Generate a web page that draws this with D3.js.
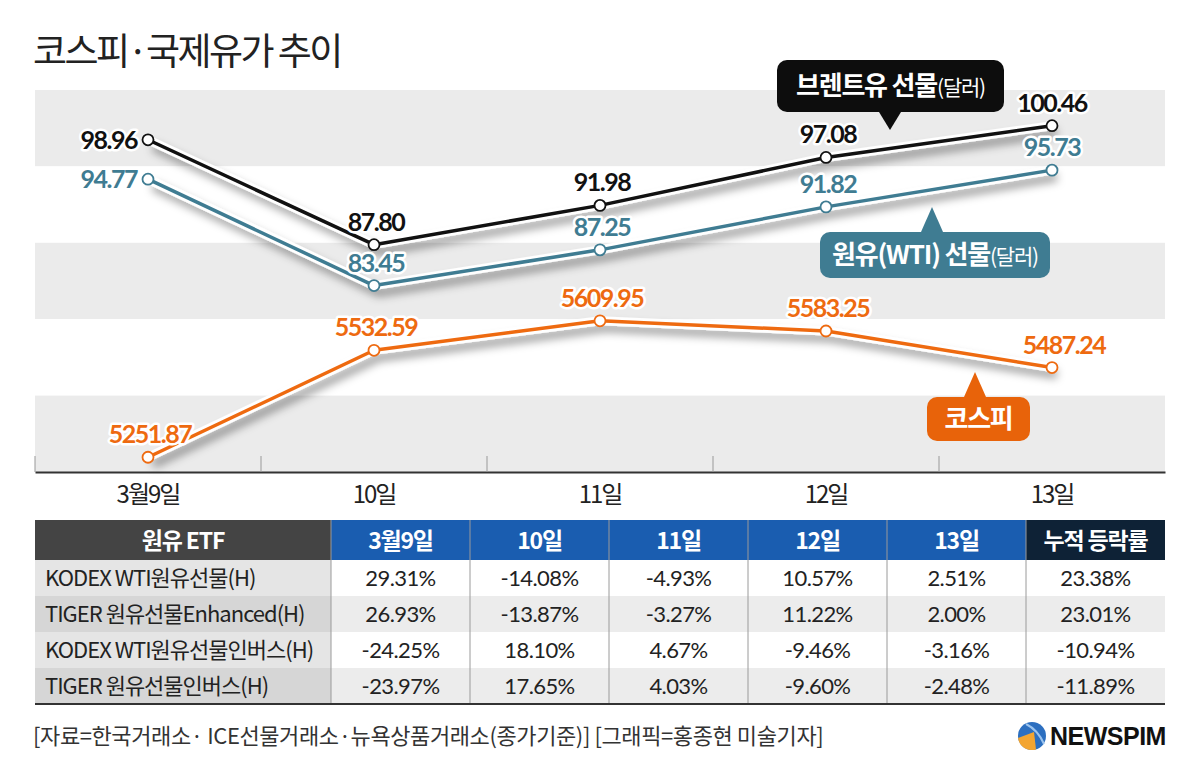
<!DOCTYPE html>
<html>
<head>
<meta charset="utf-8">
<script src="https://cdn.jsdelivr.net/npm/d3@7/dist/d3.min.js"></script>
<style>
  body { margin: 0; background: #fff; }
  svg { display: block; font-family: "Noto Sans CJK KR", "Noto Sans", sans-serif; }
  .num { font-family: Lato, "Noto Sans", sans-serif; font-weight: 700; letter-spacing: -1.5px; }
</style>
</head>
<body>
<svg id="chart" width="1200" height="780"></svg>
<script>
// data
var days = ["3월9일", "10일", "11일", "12일", "13일"];
var brent = [98.96, 87.80, 91.98, 97.08, 100.46];
var wti = [94.77, 83.45, 87.25, 91.82, 95.73];
var kospi = [5251.87, 5532.59, 5609.95, 5583.25, 5487.24];

var etfHeader = ["원유 ETF", "3월9일", "10일", "11일", "12일", "13일", "누적 등락률"];
var etfNames = ["KODEX WTI원유선물(H)", "TIGER 원유선물Enhanced(H)", "KODEX WTI원유선물인버스(H)", "TIGER 원유선물인버스(H)"];
var etfRow1 = ["29.31%", "-14.08%", "-4.93%", "10.57%", "2.51%", "23.38%"];
var etfRow2 = ["26.93%", "-13.87%", "-3.27%", "11.22%", "2.00%", "23.01%"];
var etfRow3 = ["-24.25%", "18.10%", "4.67%", "-9.46%", "-3.16%", "-10.94%"];
var etfRow4 = ["-23.97%", "17.65%", "4.03%", "-9.60%", "-2.48%", "-11.89%"];
var etfRows = [etfRow1, etfRow2, etfRow3, etfRow4];

var BLACK = "#111", TEAL = "#3f7c92", ORANGE = "#ee6a10";

var svg = d3.select("#chart");

// shadow filter
var defs = svg.append("defs");
var f = defs.append("filter").attr("id", "shadow")
    .attr("x", "-10%").attr("y", "-30%").attr("width", "130%").attr("height", "180%");
f.append("feDropShadow").attr("dx", 5).attr("dy", 7).attr("stdDeviation", 4)
    .attr("flood-color", "#000").attr("flood-opacity", 0.35);

// title
svg.append("text").attr("x", 33).attr("y", 65)
    .attr("font-size", 37).attr("font-weight", 400).attr("fill", "#222")
    .attr("letter-spacing", "-2.5")
    .text("코스피·국제유가 추이");

// scales
var plotL = 35, plotR = 1165, plotT = 90, plotB = 472;
var x = d3.scaleBand().domain(days).range([plotL, plotR]);
var cx = function (d, i) { return x(days[i]) + x.bandwidth() / 2; };
var yOil = d3.scaleLinear().domain([80, 100]).range([318, 130]);
var yK = d3.scaleLinear().domain([5200, 5700]).range([477, 286.5]);

// stripes
var stripeH = (plotB - plotT) / 5;
svg.append("g").selectAll("rect").data(d3.range(5)).join("rect")
    .attr("x", plotL).attr("width", plotR - plotL)
    .attr("y", function (d) { return plotT + d * stripeH; })
    .attr("height", stripeH)
    .attr("fill", function (d) { return d % 2 == 0 ? "#ebebeb" : "#fff"; });

// x axis
var xAxis = svg.append("g").attr("transform", "translate(0," + plotB + ")")
    .call(d3.axisBottom(x).tickSize(0).tickPadding(14));
xAxis.select(".domain").attr("stroke", "#333").attr("stroke-width", 2);
xAxis.selectAll("text").attr("font-size", 24).attr("fill", "#222")
    .attr("font-family", "'Noto Sans CJK KR', sans-serif").attr("letter-spacing", "-2");
svg.append("g").selectAll("line").data(days.slice(1)).join("line")
    .attr("x1", function (d) { return x(d); }).attr("x2", function (d) { return x(d); })
    .attr("y1", plotB - 16).attr("y2", plotB)
    .attr("stroke", "#999").attr("stroke-width", 1);
svg.append("line").attr("x1", plotL).attr("x2", plotL).attr("y1", plotB - 16).attr("y2", plotB)
    .attr("stroke", "#999");

// series
function drawSeries(vals, yScale, color) {
    var pts = vals.map(function (v, i) { return [cx(v, i), yScale(v)]; });
    var line = d3.line();
    var g = svg.append("g");
    g.append("path").attr("d", line(pts)).attr("fill", "none")
        .attr("stroke", "#fff").attr("stroke-width", 9).attr("stroke-linejoin", "round")
        .attr("filter", "url(#shadow)");
    g.append("path").attr("d", line(pts)).attr("fill", "none")
        .attr("stroke", color).attr("stroke-width", 3.5).attr("stroke-linejoin", "round");
    g.selectAll("circle").data(pts).join("circle")
        .attr("cx", function (d) { return d[0]; }).attr("cy", function (d) { return d[1]; })
        .attr("r", 5.5).attr("fill", "#fff").attr("stroke", color).attr("stroke-width", 1.8);
    return pts;
}
var pB = drawSeries(brent, yOil, BLACK);
var pW = drawSeries(wti, yOil, TEAL);
var pK = drawSeries(kospi, yK, ORANGE);

// value labels
function labels(vals, pts, color, fmt, firstLeft, dxLast) {
    svg.append("g").selectAll("text").data(vals).join("text")
        .attr("class", "num")
        .attr("x", function (d, i) {
            if (i == 0 && firstLeft) return pts[i][0] - 11;
            if (i == vals.length - 1) return pts[i][0] + (dxLast || 0);
            return pts[i][0] + 2;
        })
        .attr("y", function (d, i) {
            if (i == 0 && firstLeft) return pts[i][1] + 9;
            return pts[i][1] - 14;
        })
        .attr("text-anchor", function (d, i) { return (i == 0 && firstLeft) ? "end" : "middle"; })
        .attr("font-size", 25).attr("fill", color)
        .attr("stroke", "#fff").attr("stroke-width", 5).attr("stroke-linejoin", "round")
        .attr("paint-order", "stroke")
        .text(function (d) { return d3.format(fmt)(d); });
}
labels(brent, pB, BLACK, ".2f", true, 0);
labels(wti, pW, TEAL, ".2f", true, 0);
labels(kospi, pK, ORANGE, ".2f", false, 12);

// callouts
function callout(bx, by, bw, bh, tipX, tipY, color, main, sub) {
    var g = svg.append("g");
    var up = tipY < by;
    var baseY = up ? by : by + bh;
    g.append("path")
        .attr("d", "M" + (tipX - 11) + "," + baseY + "L" + tipX + "," + tipY + "L" + (tipX + 11) + "," + baseY + "Z")
        .attr("fill", color);
    g.append("rect").attr("x", bx).attr("y", by).attr("width", bw).attr("height", bh)
        .attr("rx", 10).attr("fill", color);
    var t = g.append("text").attr("x", bx + bw / 2).attr("y", by + bh / 2 + 9)
        .attr("text-anchor", "middle").attr("fill", "#fff").attr("letter-spacing", "-1.2");
    t.append("tspan").attr("font-size", 26).attr("font-weight", 700).text(main);
    if (sub) t.append("tspan").attr("font-size", 21).attr("font-weight", 400).text(sub);
}
callout(777, 60, 227, 52, 890, 130, "#0d0d0d", "브렌트유 선물", "(달러)");
callout(820, 232, 230, 46, 932, 207, TEAL, "원유(WTI) 선물", "(달러)");
callout(927, 397, 103, 44, 975, 372, "#e8630a", "코스피", null);

// table
var tTop = 520, headH = 40, rowH = 36;
var colX = [35, 331];
for (var c = 1; c < etfHeader.length; c++) colX.push(331 + c * 139);
var colW = function (c) { return colX[c + 1] - colX[c]; };
var headFill = function (c) { return c == 0 ? "#444444" : (c == etfHeader.length - 1 ? "#0e2236" : "#1a5db0"); };

var tg = svg.append("g");
tg.selectAll("rect.h").data(etfHeader).join("rect").attr("class", "h")
    .attr("x", function (d, i) { return colX[i]; }).attr("y", tTop)
    .attr("width", function (d, i) { return colW(i); }).attr("height", headH)
    .attr("fill", function (d, i) { return headFill(i); });
tg.selectAll("text.h").data(etfHeader).join("text").attr("class", "h")
    .attr("x", function (d, i) { return colX[i] + colW(i) / 2; }).attr("y", tTop + 29)
    .attr("text-anchor", "middle").attr("fill", "#fff").attr("font-size", 23)
    .attr("font-weight", 700).attr("letter-spacing", "-1.2").text(function (d) { return d; });

etfNames.forEach(function (name, r) {
    var y0 = tTop + headH + r * rowH;
    var cells = [name].concat(etfRows[r]);
    tg.selectAll("rect.r" + r).data(cells).join("rect").attr("class", "r" + r)
        .attr("x", function (d, i) { return colX[i]; }).attr("y", y0)
        .attr("width", function (d, i) { return colW(i); }).attr("height", rowH)
        .attr("fill", function (d, i) {
            if (i == 0) return r % 2 == 0 ? "#e5e5e5" : "#d6d6d6";
            return r % 2 == 0 ? "#ffffff" : "#ececec";
        });
    tg.selectAll("text.r" + r).data(cells).join("text").attr("class", "r" + r)
        .attr("x", function (d, i) { return i == 0 ? colX[0] + 10 : colX[i] + colW(i) / 2; })
        .attr("y", y0 + 26)
        .attr("text-anchor", function (d, i) { return i == 0 ? "start" : "middle"; })
        .attr("font-family", function (d, i) { return i == 0 ? null : "Lato, sans-serif"; })
        .attr("font-size", 22)
        .attr("fill", "#222")
        .attr("letter-spacing", function (d, i) { return i == 0 ? "-1" : "-0.6"; })
        .text(function (d) { return d; });
});
var tBottom = tTop + headH + etfNames.length * rowH;
tg.selectAll("line.v").data(colX.slice(1, -1)).join("line").attr("class", "v")
    .attr("x1", function (d) { return d; }).attr("x2", function (d) { return d; })
    .attr("y1", tTop).attr("y2", tBottom)
    .attr("stroke", "#9a9a9a").attr("stroke-width", 1);
tg.append("line").attr("x1", 35).attr("x2", 1165).attr("y1", tBottom).attr("y2", tBottom)
    .attr("stroke", "#333").attr("stroke-width", 2);

// footer
svg.append("text").attr("x", 33).attr("y", 744).attr("font-size", 22).attr("fill", "#333")
    .attr("letter-spacing", "-0.4")
    .text("[자료=한국거래소· ICE선물거래소·뉴욕상품거래소(종가기준)] [그래픽=홍종현 미술기자]");

// logo
var lg = svg.append("g").attr("transform", "translate(1032,736)");
lg.append("circle").attr("r", 14).attr("fill", "#2c6fc0");
lg.append("path").attr("d", "M-14,2 A14,14 0 0,0 4,13.5 L2,-4 Z").attr("fill", "#f3a531");
lg.append("path").attr("d", "M-6,-12 Q6,-6 12,8").attr("fill", "none").attr("stroke", "#9cc4ee").attr("stroke-width", 2);
svg.append("text").attr("x", 1050).attr("y", 745).attr("font-family", "'Liberation Sans', Arial, sans-serif")
    .attr("font-weight", 700).attr("font-size", 25).attr("fill", "#111").attr("letter-spacing", "-0.5")
    .text("NEWSPIM");
</script>
</body>
</html>
